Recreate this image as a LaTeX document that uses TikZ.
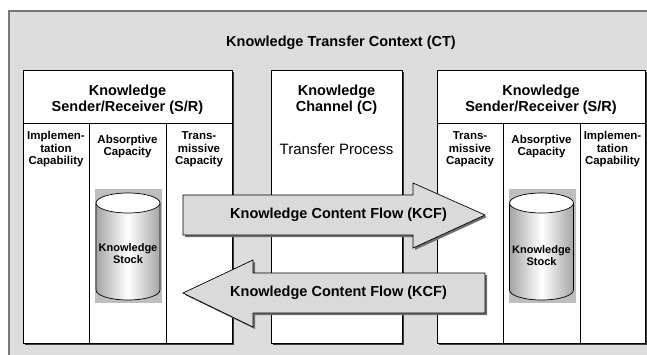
\documentclass[tikz,border=0pt]{standalone}
\usepackage{fontspec}
\setmainfont{Liberation Sans}
\usetikzlibrary{shadows}
\definecolor{bggray}{RGB}{221,221,221}
\definecolor{edgegray}{RGB}{120,120,120}
\definecolor{arrowfill}{RGB}{218,218,218}
\definecolor{arrowshadow}{RGB}{110,110,110}
\definecolor{boxshadow}{RGB}{60,60,60}
\definecolor{backing}{RGB}{190,190,190}
\definecolor{cylside}{RGB}{165,165,165}
\begin{document}
\begin{tikzpicture}[x=1pt,y=-1pt,
  panel/.style={draw=black, line width=0.9pt, fill=white, anchor=north west,
    drop shadow={shadow xshift=1.6pt, shadow yshift=-1.6pt, fill=boxshadow, opacity=1}},
  title/.style={font=\bfseries\fontsize{14.5}{16}\selectfont, align=center, inner sep=0pt},
  hdr/.style={font=\bfseries\fontsize{14.5}{16}\selectfont, align=center, inner sep=0pt},
  plain/.style={font=\fontsize{15}{16}\selectfont, align=center, inner sep=0pt},
  col/.style={font=\bfseries\fontsize{11.5}{12.5}\selectfont, align=center, inner sep=0pt},
  stock/.style={font=\bfseries\fontsize{11}{12}\selectfont, align=center, inner sep=0pt},
  flowlabel/.style={font=\bfseries\fontsize{14.5}{16}\selectfont, inner sep=0pt},
  flowarrow/.style={fill=arrowfill, draw=black, line width=0.7pt},
  flowshadow/.style={fill=arrowshadow},
  divider/.style={draw=black, line width=0.9pt}
]
\useasboundingbox (0,0) rectangle (647,354);
\fill[white] (0,0) rectangle (647,354);
% context background
\fill[bggray] (9,11) rectangle (650,357);
\draw[edgegray, line width=1.2pt] (9,357) -- (9,11) -- (650,11);
\node[title] (ct) at (341,43) {Knowledge Transfer Context (CT)};

% panels
\node[panel, minimum width=209pt, minimum height=273pt] (lsr) at (23,70) {};
\node[panel, minimum width=131pt, minimum height=273pt] (chan) at (271,70) {};
\node[panel, minimum width=208pt, minimum height=273pt] (rsr) at (437,70) {};

% left S/R
\node[hdr] (lsrT) at (127.5,100) {Knowledge\\Sender/Receiver (S/R)};
\draw[divider] (23,123) -- (232,123);
\draw[divider] (89,123) -- (89,343);
\draw[divider] (166,123) -- (166,343);
\node[col] (limp) at (56,149.5) {Implemen-\\tation\\Capability};
\node[col] (labs) at (127.5,146.5) {Absorptive\\Capacity};
\node[col] (ltra) at (199,149.5) {Trans-\\missive\\Capacity};

% channel
\node[hdr] (chanT) at (336.5,100) {Knowledge\\Channel (C)};
\node[plain] (tp) at (336.5,149) {Transfer Process};

% right S/R
\node[hdr] (rsrT) at (541,100) {Knowledge\\Sender/Receiver (S/R)};
\draw[divider] (437,123) -- (645,123);
\draw[divider] (503,123) -- (503,343);
\draw[divider] (580,123) -- (580,343);
\node[col] (rtra) at (470,149.5) {Trans-\\missive\\Capacity};
\node[col] (rabs) at (541.5,146.5) {Absorptive\\Capacity};
\node[col] (rimp) at (612.5,149.5) {Implemen-\\tation\\Capability};

% cylinders
\foreach \cx/\nm in {128/ls, 541.5/rs}{
  \fill[backing] (\cx-33,189) rectangle (\cx+34,303);
  \shade[left color=cylside, right color=cylside, middle color=white]
    (\cx-32,203) -- (\cx-32,290) arc[start angle=180, end angle=0, x radius=32, y radius=10]
    -- (\cx+32,203) arc[start angle=0, end angle=180, x radius=32, y radius=10] -- cycle;
  \draw[black, line width=0.7pt]
    (\cx-32,203) -- (\cx-32,290) arc[start angle=180, end angle=0, x radius=32, y radius=10]
    -- (\cx+32,203);
  \draw[black, line width=0.7pt, fill=white] (\cx,203) ellipse[x radius=32, y radius=10];
}
\node[stock] (lstock) at (128,254) {Knowledge\\Stock};
\node[stock] (rstock) at (541.5,256) {Knowledge\\Stock};

% right-pointing flow arrow
\fill[flowshadow] (185,197) -- (415,197) -- (415,185) -- (487,217) -- (415,250) -- (415,237) -- (185,237) -- cycle;
\draw[flowarrow] (183,195) -- (413,195) -- (413,183) -- (485,215) -- (413,248) -- (413,235) -- (183,235) -- cycle;
\node[flowlabel] (kcf1) at (338.5,215) {Knowledge Content Flow (KCF)};

% left-pointing flow arrow
\fill[flowshadow] (185,295) -- (255,262) -- (255,275) -- (487,275) -- (487,315) -- (255,315) -- (255,329) -- cycle;
\draw[flowarrow] (183,293) -- (253,260) -- (253,273) -- (485,273) -- (485,313) -- (253,313) -- (253,327) -- cycle;
\node[flowlabel] (kcf2) at (338.5,293) {Knowledge Content Flow (KCF)};
\end{tikzpicture}
\end{document}
